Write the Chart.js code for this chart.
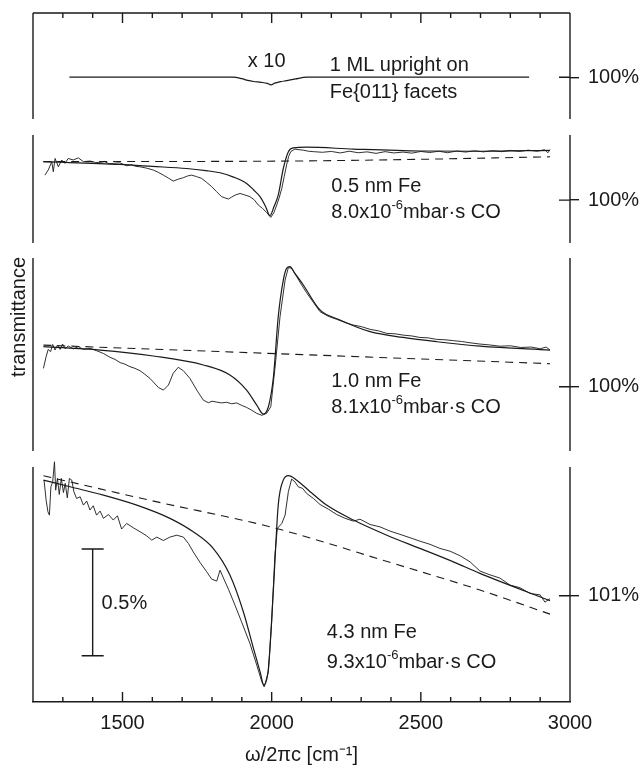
<!DOCTYPE html>
<html>
<head>
<meta charset="utf-8">
<script src="https://cdn.jsdelivr.net/npm/chart.js@4.4.1/dist/chart.umd.min.js"></script>
<style>
  html, body { margin: 0; padding: 0; background: #fff; }
  canvas { display: block; }
</style>
</head>
<body>
<canvas id="spectra" width="641" height="765"></canvas>
<script>
// transmittance minus the labelled right-axis level, in %
// panel 1: 1 ML upright CO (drawn x10)
const upX = [1322, 1870, 1900, 1920, 1940, 1965, 1985, 1998, 2010, 2030, 2050, 2080, 2117, 2863];
const upY = [0, 0, -0.0007, -0.0015, -0.0020, -0.0024, -0.0029, -0.0036, -0.0028, -0.0021, -0.0016, -0.0008, 0, 0];

// panel 2: 0.5 nm Fe
const fe05MeasX = [1240,1251,1263,1268,1274,1285,1296,1307,1318,1335,1352,1369,1391,1410,1425,1440,1455,1469,1490,1514,1530,1545,1559,1580,1603,1620,1637,1654,1670,1687,1704,1718,1732,1748,1765,1782,1799,1815,1832,1844,1855,1866,1877,1894,1910,1927,1941,1955,1970,1983,1997,2007,2017,2025,2034,2042,2050,2057,2064,2078,2092,2106,2123,2140,2170,2200,2230,2260,2290,2320,2350,2380,2410,2440,2470,2500,2530,2560,2590,2620,2650,2680,2710,2740,2770,2800,2830,2860,2890,2915,2926,2933];
const fe05MeasY = [0.117,0.141,0.180,0.133,0.195,0.156,0.188,0.172,0.195,0.188,0.198,0.180,0.183,0.176,0.177,0.181,0.170,0.172,0.175,0.161,0.165,0.158,0.156,0.150,0.141,0.130,0.117,0.103,0.089,0.098,0.105,0.113,0.117,0.110,0.102,0.083,0.063,0.040,0.016,0.010,0.005,0.014,0.023,0.031,0.024,0.016,0.002,-0.023,-0.040,-0.058,-0.081,-0.060,-0.023,0.010,0.055,0.110,0.164,0.205,0.227,0.239,0.236,0.234,0.229,0.227,0.224,0.228,0.221,0.229,0.222,0.226,0.219,0.227,0.221,0.225,0.220,0.228,0.223,0.229,0.222,0.230,0.225,0.231,0.226,0.232,0.227,0.233,0.228,0.234,0.229,0.236,0.222,0.236];
const fe05FitX = [1235,1492,1600,1715,1780,1827,1870,1916,1940,1961,1980,1994,2008,2022,2039,2056,2073,2117,2274,2500,2700,2933];
const fe05FitY = [0.180,0.167,0.158,0.148,0.138,0.128,0.109,0.078,0.047,0.016,-0.031,-0.073,-0.030,0.023,0.148,0.227,0.245,0.248,0.239,0.230,0.229,0.233];
const fe05BaseX = [1234, 2061, 2497, 2933];
const fe05BaseY = [0.180, 0.183, 0.191, 0.203];

// panel 3: 1.0 nm Fe
const fe10MeasX = [1235,1244,1251,1259,1266,1274,1282,1291,1299,1308,1318,1335,1352,1369,1391,1413,1436,1458,1475,1492,1508,1525,1542,1559,1575,1592,1606,1620,1637,1654,1670,1687,1704,1726,1749,1771,1788,1800,1816,1832,1849,1866,1883,1900,1916,1933,1950,1967,1983,1997,2011,2028,2045,2056,2067,2084,2100,2117,2140,2162,2190,2218,2246,2274,2300,2330,2358,2386,2414,2441,2470,2497,2525,2553,2581,2609,2637,2665,2698,2730,2765,2800,2835,2870,2900,2920,2933];
const fe10MeasY = [0.086,0.141,0.175,0.164,0.198,0.172,0.195,0.175,0.200,0.178,0.191,0.177,0.188,0.175,0.180,0.169,0.156,0.138,0.128,0.113,0.106,0.094,0.086,0.075,0.058,0.039,0.018,-0.003,-0.016,0.008,0.063,0.091,0.075,0.039,-0.016,-0.063,-0.075,-0.068,-0.072,-0.076,-0.073,-0.080,-0.076,-0.088,-0.097,-0.110,-0.125,-0.134,-0.125,-0.094,0.086,0.328,0.500,0.559,0.555,0.516,0.478,0.441,0.395,0.352,0.330,0.316,0.301,0.289,0.282,0.269,0.262,0.250,0.248,0.242,0.238,0.231,0.229,0.222,0.220,0.216,0.212,0.206,0.200,0.196,0.190,0.192,0.184,0.186,0.178,0.186,0.172];
const fe10FitX = [1235,1425,1603,1771,1860,1916,1950,1972,1989,2006,2022,2039,2050,2061,2078,2106,2162,2229,2330,2441,2553,2698,2933];
const fe10FitY = [0.188,0.172,0.144,0.102,0.055,-0.016,-0.086,-0.128,-0.094,0.047,0.328,0.500,0.555,0.563,0.531,0.477,0.360,0.313,0.258,0.231,0.211,0.190,0.172];
const fe10BaseX = [1235, 2933];
const fe10BaseY = [0.195, 0.108];

// panel 4: 4.3 nm Fe
const fe43MeasX = [1237,1244,1250,1255,1260,1266,1272,1276,1282,1288,1295,1302,1308,1315,1322,1330,1337,1346,1358,1369,1380,1391,1402,1413,1425,1436,1453,1469,1483,1497,1514,1536,1559,1581,1598,1615,1637,1659,1682,1704,1721,1737,1760,1782,1799,1816,1827,1840,1855,1877,1899,1927,1950,1967,1975,1989,2000,2011,2019,2034,2045,2056,2067,2078,2089,2104,2117,2140,2162,2190,2218,2246,2274,2296,2330,2363,2397,2430,2464,2497,2531,2564,2598,2631,2665,2698,2732,2765,2799,2832,2866,2900,2916,2933];
const fe43MeasY = [0.542,0.448,0.394,0.378,0.511,0.534,0.628,0.495,0.550,0.475,0.550,0.484,0.527,0.459,0.550,0.542,0.488,0.456,0.464,0.425,0.444,0.402,0.422,0.378,0.397,0.363,0.381,0.355,0.375,0.313,0.339,0.319,0.300,0.281,0.261,0.275,0.259,0.275,0.284,0.275,0.245,0.206,0.156,0.113,0.078,0.069,0.120,0.078,0.031,-0.044,-0.122,-0.223,-0.325,-0.403,-0.427,-0.356,-0.122,0.191,0.316,0.339,0.378,0.488,0.547,0.534,0.511,0.503,0.480,0.456,0.428,0.406,0.381,0.363,0.350,0.359,0.334,0.323,0.303,0.288,0.272,0.256,0.241,0.222,0.209,0.188,0.159,0.116,0.098,0.083,0.050,0.038,0.011,0.004,-0.030,-0.013];
const fe43FitX = [1235,1324,1436,1548,1659,1737,1804,1860,1905,1939,1961,1974,1989,2006,2022,2039,2056,2084,2129,2184,2274,2386,2497,2609,2698,2933];
const fe43FitY = [0.542,0.511,0.472,0.425,0.363,0.300,0.222,0.097,-0.075,-0.247,-0.356,-0.419,-0.341,0.034,0.425,0.542,0.563,0.542,0.488,0.425,0.355,0.284,0.222,0.159,0.105,-0.023];
const fe43BaseX = [1235, 1600, 2006, 2400, 2698, 2933];
const fe43BaseY = [0.5625, 0.445, 0.319, 0.155, 0.027, -0.086];

// right-axis reference levels and the 0.5% scale bar (panel 4 units)
const refLabels = ['100%', '100%', '100%', '101%'];
const scaleBarAt = 1400;
const scaleBarY = [-0.281, 0.219];

// layout of the stacked panels on one shared y scale (1 unit = 1 %)
const panelLevel = [2.929, 2.353, 1.478, 0.498];
const panelTop = [3.230, 2.658, 2.082, 1.102];
const panelBottom = [2.733, 2.152, 1.177, 0];
const panelGain = [10, 1, 1, 1];

const noteText = ['x 10', '1 ML upright on', 'Fe{011} facets', '0.5 nm Fe', '8.0x10^{-6}mbar·s CO',
  '1.0 nm Fe', '8.1x10^{-6}mbar·s CO', '4.3 nm Fe', '9.3x10^{-6}mbar·s CO', '0.5%'];
const noteX = [1920, 2195, 2195, 2200, 2200, 2200, 2200, 2185, 2185, 1430];
const noteY = [2.977, 2.958, 2.832, 2.392, 2.268, 1.478, 1.353, 0.299, 0.158, 0.436];

const ink = '#1a1a1a';
const family = "'Liberation Sans', Arial, Helvetica, sans-serif";
Chart.defaults.font.family = family;
Chart.defaults.color = ink;

function series(xs, ys, panel, style) {
  return Object.assign({
    data: xs.map((x, i) => ({x: x, y: panelLevel[panel] + ys[i] * panelGain[panel]})),
    borderColor: ink,
    borderWidth: 1,
    pointRadius: 0,
    fill: false
  }, style);
}

const measured = {borderWidth: 0.9};
const fitted = {borderWidth: 1.2, cubicInterpolationMode: 'monotone'};
const dashed = {borderWidth: 1.1, borderDash: [8, 6], cubicInterpolationMode: 'monotone'};

function drawNote(ctx, text, x, y) {
  // "^{..}" marks a superscript
  const parts = text.split(/\^\{([^}]*)\}/);
  parts.forEach((p, i) => {
    const sup = i % 2 === 1;
    ctx.font = (sup ? 13 : 20) + 'px ' + family;
    ctx.fillText(p, x, sup ? y - 9 : y);
    x += ctx.measureText(p).width;
  });
}

const figureFrame = {
  id: 'figureFrame',
  afterDraw(chart) {
    const {ctx, chartArea: area, scales: {x, y}} = chart;
    ctx.save();
    ctx.strokeStyle = ink;
    ctx.lineWidth = 1.4;
    ctx.beginPath();
    ctx.moveTo(area.left, area.top);
    ctx.lineTo(area.right, area.top);
    // side borders are broken between the panels
    panelTop.forEach((top, i) => {
      const t = y.getPixelForValue(top), b = y.getPixelForValue(panelBottom[i]);
      ctx.moveTo(area.left, t); ctx.lineTo(area.left, b);
      ctx.moveTo(area.right, t); ctx.lineTo(area.right, b);
    });
    // inward ticks on top and bottom
    x.ticks.forEach(t => {
      if (t.value <= x.min || t.value >= x.max) return;
      const px = x.getPixelForValue(t.value);
      const len = t.value % 500 === 0 ? 10 : 5;
      ctx.moveTo(px, area.top); ctx.lineTo(px, area.top + len);
      ctx.moveTo(px, area.bottom); ctx.lineTo(px, area.bottom - len);
    });
    // inner half of the right reference ticks
    panelLevel.forEach(v => {
      const py = y.getPixelForValue(v);
      ctx.moveTo(area.right - 11, py); ctx.lineTo(area.right, py);
    });
    // 0.5% scale bar
    const bx = x.getPixelForValue(scaleBarAt);
    const b0 = y.getPixelForValue(panelLevel[3] + scaleBarY[0]);
    const b1 = y.getPixelForValue(panelLevel[3] + scaleBarY[1]);
    ctx.moveTo(bx, b0); ctx.lineTo(bx, b1);
    ctx.moveTo(bx - 11, b0); ctx.lineTo(bx + 11, b0);
    ctx.moveTo(bx - 11, b1); ctx.lineTo(bx + 11, b1);
    ctx.stroke();

    ctx.fillStyle = ink;
    ctx.textAlign = 'left';
    ctx.textBaseline = 'alphabetic';
    noteText.forEach((t, i) => drawNote(ctx, t, x.getPixelForValue(noteX[i]), y.getPixelForValue(noteY[i])));

    ctx.translate(25, 317);
    ctx.rotate(-Math.PI / 2);
    ctx.textAlign = 'center';
    ctx.font = '20px ' + family;
    ctx.fillText('transmittance', 0, 0);
    ctx.restore();
  }
};

new Chart(document.getElementById('spectra'), {
  type: 'line',
  data: {
    datasets: [
      series(upX, upY, 0, fitted),
      series(fe05MeasX, fe05MeasY, 1, measured),
      series(fe05FitX, fe05FitY, 1, fitted),
      series(fe05BaseX, fe05BaseY, 1, dashed),
      series(fe10MeasX, fe10MeasY, 2, measured),
      series(fe10FitX, fe10FitY, 2, fitted),
      series(fe10BaseX, fe10BaseY, 2, dashed),
      series(fe43MeasX, fe43MeasY, 3, measured),
      series(fe43FitX, fe43FitY, 3, fitted),
      series(fe43BaseX, fe43BaseY, 3, dashed)
    ]
  },
  options: {
    responsive: false,
    animation: false,
    layout: {padding: {left: 33, top: 13, right: 0, bottom: 0}},
    plugins: {legend: {display: false}, tooltip: {enabled: false}},
    scales: {
      x: {
        type: 'linear', position: 'bottom', min: 1200, max: 3000,
        grid: {display: false, drawTicks: false},
        border: {display: true, color: ink, width: 1.4},
        ticks: {
          stepSize: 100, maxTicksLimit: 30, autoSkip: false, maxRotation: 0, padding: 9,
          color: ink, font: {size: 20},
          callback: v => v % 500 === 0 ? String(v) : ''
        },
        title: {display: true, text: 'ω/2πc [cm⁻¹]', color: ink, font: {size: 20, lineHeight: 1}, padding: 0},
        afterFit: s => { s.height = 63; s.paddingLeft = 0; s.paddingRight = 0; }
      },
      y: {type: 'linear', min: 0, max: 3.23, display: false},
      yR: {
        type: 'linear', position: 'right', min: 0, max: 3.23,
        afterBuildTicks: s => { s.ticks = panelLevel.map(v => ({value: v})); },
        ticks: {callback: (v, i) => refLabels[i], padding: 9, color: ink, font: {size: 20}},
        grid: {drawOnChartArea: false, tickLength: 9, color: ink, lineWidth: 1.4},
        border: {display: false},
        afterFit: s => { s.width = 71; s.paddingTop = 0; s.paddingBottom = 0; }
      }
    }
  },
  plugins: [figureFrame]
});
</script>
</body>
</html>
